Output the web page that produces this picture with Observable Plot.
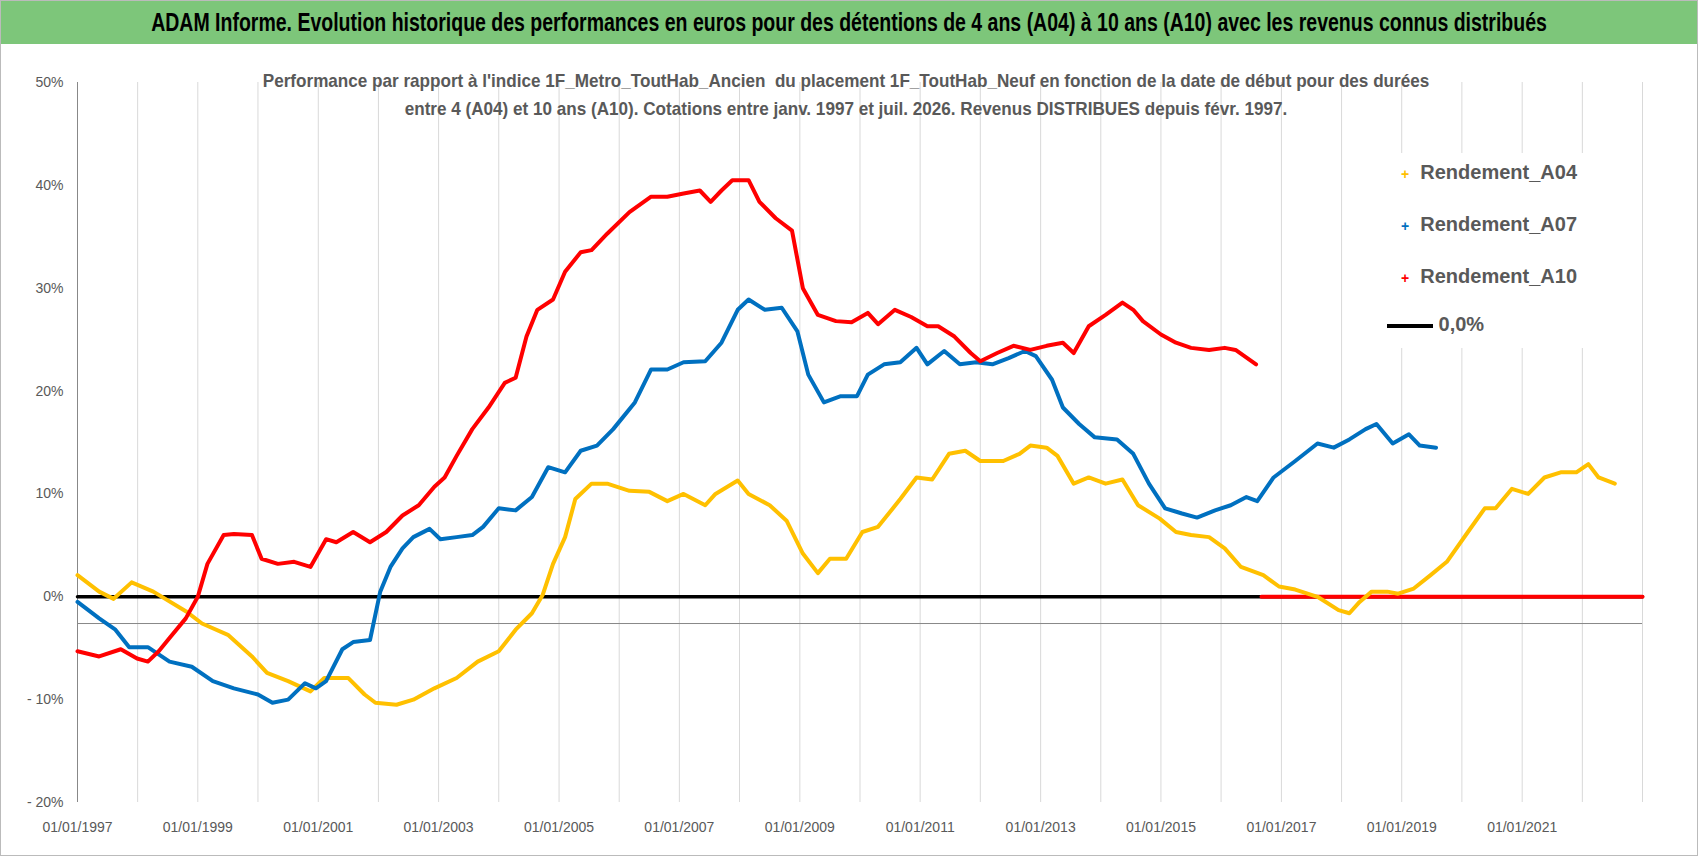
<!DOCTYPE html><html><head><meta charset="utf-8">
<script src="https://cdn.jsdelivr.net/npm/d3@7"></script>
<script src="https://cdn.jsdelivr.net/npm/@observablehq/plot@0.6"></script>
<style>
body{margin:0;background:#fff;font-family:"Liberation Sans",Arial,sans-serif;}
#wrap{position:relative;width:1696px;height:854px;border:1px solid #bbb;overflow:hidden}
#title{position:absolute;left:0;top:0;width:1696px;height:43px;background:#7dc67a;}
#title span{position:absolute;left:848px;top:0;transform:translateX(-50%) scaleX(0.78);white-space:nowrap;font-weight:bold;font-size:25px;line-height:43px;color:#000}
.sub{position:absolute;left:845px;white-space:nowrap;transform:translateX(-50%) scaleX(0.9);font-size:19px;font-weight:bold;color:#595959;}
#leg{position:absolute;left:1386px;top:152px;width:255px;height:195px;background:#fff;font-size:20px;font-weight:bold;color:#595959;}
#leg div{position:absolute;left:14px;white-space:nowrap}
#chart{position:absolute;left:0;top:43px;}
</style></head><body><div id="wrap">
<div id="title"><span>ADAM Informe. Evolution historique des performances en euros pour des détentions de 4 ans (A04) à 10 ans (A10) avec les revenus connus distribués</span></div>
<div id="chart"></div>
<div class="sub" style="top:69px">Performance par rapport à l'indice 1F_Metro_ToutHab_Ancien&nbsp; du placement 1F_ToutHab_Neuf en fonction de la date de début pour des durées</div>
<div class="sub" style="top:97px">entre 4 (A04) et 10 ans (A10). Cotations entre janv. 1997 et juil. 2026. Revenus DISTRIBUES depuis févr. 1997.</div>
<div id="leg">
<div style="top:8px"><span style="color:#ffc000;font-size:14px">+</span>&nbsp; Rendement_A04</div>
<div style="top:60px"><span style="color:#0070c0;font-size:14px">+</span>&nbsp; Rendement_A07</div>
<div style="top:112px"><span style="color:#ff0000;font-size:14px">+</span>&nbsp; Rendement_A10</div>
<div style="top:160px;left:0"><span style="display:inline-block;width:46px;height:4px;background:#000;vertical-align:middle"></span>&nbsp;0,0%</div>
</div>
</div>
<script>
const a04 = [[1997,2.1],[1997.36,0.5],[1997.6,-0.2],[1997.9,1.4],[1998.26,0.5],[1998.8,-1.4],[1999.07,-2.6],[1999.5,-3.7],[1999.9,-5.8],[2000.15,-7.4],[2000.5,-8.2],[2000.87,-9.2],[2001.1,-7.9],[2001.5,-7.9],[2001.77,-9.5],[2001.95,-10.3],[2002.3,-10.5],[2002.58,-10],[2002.93,-8.9],[2003.3,-7.9],[2003.65,-6.3],[2004,-5.3],[2004.28,-3.2],[2004.55,-1.6],[2004.73,0.2],[2004.9,3.2],[2005.1,5.8],[2005.27,9.5],[2005.54,11],[2005.8,11],[2006.17,10.3],[2006.5,10.2],[2006.8,9.3],[2007.07,10],[2007.43,8.9],[2007.6,10],[2007.97,11.3],[2008.15,10],[2008.5,8.9],[2008.78,7.4],[2009.05,4.2],[2009.3,2.3],[2009.5,3.7],[2009.77,3.7],[2010.04,6.3],[2010.3,6.8],[2010.67,9.5],[2010.94,11.6],[2011.2,11.4],[2011.48,13.9],[2011.75,14.2],[2012,13.2],[2012.38,13.2],[2012.65,13.9],[2012.83,14.7],[2013.1,14.5],[2013.28,13.7],[2013.55,11],[2013.8,11.6],[2014.08,11],[2014.36,11.4],[2014.62,8.9],[2014.98,7.6],[2015.25,6.3],[2015.5,6],[2015.8,5.8],[2016.06,4.7],[2016.33,2.9],[2016.7,2.1],[2016.96,1],[2017.23,0.7],[2017.6,0],[2017.95,-1.3],[2018.13,-1.6],[2018.3,-0.5],[2018.5,0.5],[2018.76,0.5],[2018.94,0.3],[2019.2,0.8],[2019.48,2.1],[2019.75,3.4],[2020.1,6.3],[2020.38,8.6],[2020.56,8.6],[2020.83,10.5],[2021.1,10],[2021.37,11.6],[2021.64,12.1],[2021.9,12.1],[2022.1,12.9],[2022.27,11.6],[2022.54,11]];
const a07 = [[1997,-0.5],[1997.36,-2.1],[1997.63,-3.2],[1997.86,-4.9],[1998.17,-4.9],[1998.53,-6.3],[1998.9,-6.8],[1999.25,-8.2],[1999.6,-8.9],[2000,-9.5],[2000.24,-10.3],[2000.5,-10],[2000.78,-8.4],[2000.96,-8.9],[2001.13,-8.2],[2001.4,-5.1],[2001.58,-4.4],[2001.86,-4.2],[2002.03,0.5],[2002.2,2.9],[2002.4,4.7],[2002.58,5.8],[2002.85,6.6],[2003.03,5.6],[2003.3,5.8],[2003.56,6],[2003.74,6.8],[2004,8.6],[2004.28,8.4],[2004.55,9.7],[2004.82,12.6],[2005.1,12.1],[2005.36,14.2],[2005.63,14.7],[2005.9,16.3],[2006.26,18.9],[2006.53,22.1],[2006.8,22.1],[2007.07,22.8],[2007.43,22.9],[2007.7,24.7],[2007.97,27.9],[2008.15,28.9],[2008.42,27.9],[2008.7,28.1],[2008.96,25.8],[2009.14,21.6],[2009.4,18.9],[2009.68,19.5],[2009.95,19.5],[2010.13,21.6],[2010.4,22.6],[2010.67,22.8],[2010.94,24.2],[2011.12,22.6],[2011.4,23.9],[2011.66,22.6],[2011.93,22.8],[2012.2,22.6],[2012.47,23.2],[2012.74,23.9],[2012.92,23.4],[2013.19,21.1],[2013.37,18.4],[2013.64,16.8],[2013.9,15.5],[2014.27,15.3],[2014.54,13.9],[2014.8,11],[2015.07,8.6],[2015.35,8.1],[2015.6,7.7],[2015.9,8.4],[2016.16,8.9],[2016.42,9.7],[2016.6,9.3],[2016.87,11.6],[2017.23,13.2],[2017.6,14.9],[2017.87,14.5],[2018.13,15.3],[2018.4,16.3],[2018.58,16.8],[2018.85,14.9],[2019.12,15.8],[2019.3,14.7],[2019.57,14.5]];
const a10 = [[1997,-5.3],[1997.36,-5.8],[1997.72,-5.1],[1997.99,-6],[1998.17,-6.3],[1998.35,-5.3],[1998.53,-4],[1998.8,-2.1],[1999,0],[1999.16,3.2],[1999.43,6],[1999.6,6.1],[1999.9,6],[2000.06,3.7],[2000.33,3.2],[2000.6,3.4],[2000.87,2.9],[2001.13,5.6],[2001.3,5.3],[2001.58,6.3],[2001.86,5.3],[2002.13,6.3],[2002.4,7.9],[2002.67,8.9],[2002.93,10.7],[2003.1,11.6],[2003.3,13.7],[2003.56,16.3],[2003.83,18.4],[2004.1,20.8],[2004.28,21.3],[2004.46,25.3],[2004.64,27.9],[2004.9,28.9],[2005.1,31.6],[2005.36,33.5],[2005.54,33.7],[2005.8,35.3],[2006.17,37.4],[2006.53,38.9],[2006.8,38.9],[2007.07,39.2],[2007.34,39.5],[2007.52,38.4],[2007.7,39.5],[2007.88,40.5],[2008.15,40.5],[2008.33,38.4],[2008.6,36.8],[2008.87,35.6],[2009.05,30],[2009.3,27.4],[2009.6,26.8],[2009.86,26.7],[2010.13,27.6],[2010.3,26.5],[2010.58,27.9],[2010.85,27.2],[2011.12,26.3],[2011.3,26.3],[2011.57,25.3],[2011.84,23.7],[2012,22.9],[2012.28,23.7],[2012.55,24.4],[2012.83,24],[2013.1,24.4],[2013.37,24.7],[2013.55,23.7],[2013.8,26.3],[2014.08,27.4],[2014.36,28.6],[2014.54,27.9],[2014.7,26.8],[2015,25.5],[2015.25,24.7],[2015.5,24.2],[2015.8,24],[2016.06,24.2],[2016.24,24],[2016.58,22.6]];
const a10Zero = [[2016.67,0],[2023.0,0]];
const zeroLine = [[1997,0],[2023.0,0]];
const tickYears = [1997,1999,2001,2003,2005,2007,2009,2011,2013,2015,2017,2019,2021];
const yTicks = [-20,-10,0,10,20,30,40,50];

const toDate = y => { const yr=Math.floor(y); const s=Date.UTC(yr,0,1), e=Date.UTC(yr+1,0,1); return new Date(s+(y-yr)*(e-s)); };
const rows = a => a.map(([t,v])=>({d:toDate(t),v}));
const gridYears = d3.range(1997,2024);
const pct = v => v<0 ? "- "+Math.abs(v)+"%" : v+"%";
const chart = Plot.plot({
  width:1696, height:811, marginLeft:76, marginRight:55, marginTop:38, marginBottom:53,
  style:{fontFamily:'"Liberation Sans",Arial,sans-serif',fontSize:"14px",color:"#595959"},
  x:{type:"utc",domain:[toDate(1997),toDate(2023.0)],label:null},
  y:{domain:[-20,50],label:null},
  marks:[
    Plot.ruleX(gridYears.map(toDate),{stroke:"#d9d9d9",strokeWidth:1}),
    Plot.ruleY([-2.6],{stroke:"#888",strokeWidth:1}),
    Plot.ruleX([toDate(1997)],{stroke:"#888",strokeWidth:1}),
    Plot.axisY({ticks:yTicks,tickFormat:pct,tickSize:0,tickPadding:14,fontSize:14,label:null}),
    Plot.axisX({ticks:tickYears.map(toDate),tickFormat:d=>"01/01/"+d.getUTCFullYear(),tickSize:0,tickPadding:20,fontSize:14,label:null}),
    Plot.line(rows(zeroLine),{x:"d",y:"v",stroke:"#000",strokeWidth:3.5}),
    Plot.line(rows(a10Zero),{x:"d",y:"v",stroke:"#ff0000",strokeWidth:4}),
    Plot.line(rows(a04),{x:"d",y:"v",stroke:"#ffc000",strokeWidth:4}),
    Plot.line(rows(a07),{x:"d",y:"v",stroke:"#0070c0",strokeWidth:4}),
    Plot.line(rows(a10),{x:"d",y:"v",stroke:"#ff0000",strokeWidth:4})
  ]
});
document.getElementById("chart").append(chart);
</script></body></html>
